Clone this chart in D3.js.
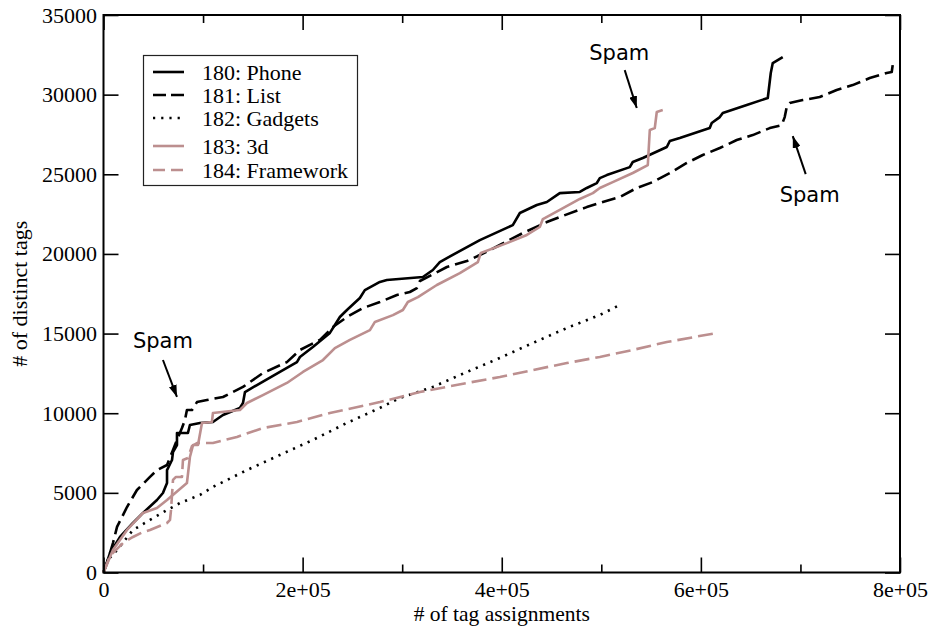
<!DOCTYPE html>
<html>
<head>
<meta charset="utf-8">
<script src="https://cdn.jsdelivr.net/npm/d3@7"></script>
<style>
  html, body { margin: 0; padding: 0; background: #fff; }
  svg { display: block; }
</style>
</head>
<body>
<svg id="chart" width="932" height="630"></svg>
<script>
// Growth of distinct tags per resource: [tag assignments, distinct tags]
const phone = [[0,0],[6500,1220],[16600,2230],[29600,3110],[39700,3740],[53700,4550],[59700,4990],[63800,5620],[63800,6430],[68800,7060],[69800,7560],[73800,8000],[73800,8760],[84800,8760],[86800,9260],[96900,9390],[109900,9450],[120000,9890],[137000,10330],[140100,10640],[142100,11330],[154100,11770],[177200,12590],[194300,13210],[197300,13530],[210300,14160],[227400,15040],[237400,16040],[244500,16480],[257500,17230],[262500,17730],[277600,18240],[284600,18360],[320800,18550],[330800,18990],[337800,19490],[344900,19740],[378000,20870],[411100,21810],[418200,22570],[435200,23070],[445300,23260],[458300,23820],[478400,23890],[485400,24140],[495500,24450],[498500,24760],[505500,24950],[528600,25450],[531600,25770],[541700,26020],[565800,26710],[568800,27090],[578800,27280],[608900,27900],[610900,28220],[619000,28590],[622000,28850],[646100,29350],[667200,29790],[670200,31360],[672200,31980],[677200,32170],[682200,32360]];

const list = [[0,0],[3500,600],[9500,1850],[13600,2860],[23600,4110],[33600,5180],[46700,6000],[53700,6430],[63800,6750],[69800,7690],[73800,8320],[78800,9070],[81800,9570],[83800,10200],[88900,10200],[93900,10700],[103900,10830],[120000,11020],[140100,11650],[160100,12520],[184200,13210],[197300,13970],[217400,14600],[230400,15410],[244500,16040],[260500,16600],[277600,16980],[294700,17420],[307700,17610],[314800,17860],[317800,18300],[344900,19180],[365000,19550],[378000,19930],[398100,20560],[421200,21310],[445300,22000],[458300,22320],[485400,22940],[501500,23260],[518600,23570],[535600,24140],[551700,24510],[568800,25080],[585800,25710],[601900,26210],[619000,26650],[636000,27150],[652100,27460],[669200,27900],[681200,28090],[684200,28590],[686200,29220],[689200,29470],[702300,29660],[719400,29850],[736400,30290],[752500,30600],[769600,31040],[786600,31360],[791700,31420],[792700,31860],[797700,32050]];

const gadgets = [[0,0],[4500,790],[13600,1410],[29600,2670],[46700,3300],[63800,3920],[76800,4360],[96900,4870],[109900,5370],[144100,6430],[177200,7380],[210300,8320],[244500,9390],[277600,10330],[297700,10960],[330800,11650],[365000,12590],[398100,13470],[431200,14410],[465400,15350],[498500,16170],[516600,16730]];

const threeD = [[0,0],[9500,1410],[23600,2670],[39700,3740],[53700,4050],[63800,4550],[83800,5620],[86800,7250],[89900,8000],[94900,8000],[98900,9390],[108900,9450],[109900,10010],[137000,10200],[144100,10640],[160100,11140],[184200,11900],[200300,12590],[220400,13340],[232400,14090],[247500,14600],[267600,15220],[272600,15730],[290700,16160],[300700,16480],[305700,16980],[315800,17290],[334800,18050],[357900,18800],[376000,19490],[379000,20060],[405100,20680],[425200,21190],[438200,21690],[441300,22190],[458300,22760],[478400,23450],[491500,23820],[498500,24140],[511500,24510],[531600,25080],[546700,25580],[548700,27780],[553700,27900],[555700,28910],[561700,29030]];

const framework = [[0,0],[6500,1040],[19600,1850],[29600,2230],[39700,2540],[46700,2670],[63800,3110],[66800,3300],[67800,3920],[69800,5810],[72800,6000],[78800,6000],[79800,7060],[84800,7190],[88900,7940],[93900,8130],[109900,8130],[134000,8510],[160100,9070],[194300,9450],[227400,10010],[277600,10700],[317800,11330],[365000,11900],[398100,12270],[431200,12710],[465400,13150],[498500,13530],[531600,13970],[565800,14470],[616000,15040]];

const seriesNames = ["180: Phone", "181: List", "182: Gadgets", "183: 3d", "184: Framework"];
const xTicks = [0, 200000, 400000, 600000, 800000];
const xTickLabels = ["0", "2e+05", "4e+05", "6e+05", "8e+05"];
const xMinorTicks = [100000, 300000, 500000, 700000];
const yTicks = [0, 5000, 10000, 15000, 20000, 25000, 30000, 35000];

// Spam callouts: label position and arrow from -> to, in data units
const spamNotes = [
  { text: "Spam", at: [59700, 14090], from: [59700, 13340], to: [73800, 11020] },
  { text: "Spam", at: [518000, 32170], from: [523500, 31540], to: [535600, 29160] },
  { text: "Spam", at: [709300, 23260], from: [705300, 25010], to: [692300, 27400] }
];

const ROSE = "#bc8f8f";
const styles = [
  { color: "#000", dash: null },
  { color: "#000", dash: "14,6" },
  { color: "#000", dash: "2.2,5.8" },
  { color: ROSE, dash: null },
  { color: ROSE, dash: "15,6" }
];
const allSeries = [phone, list, gadgets, threeD, framework];

const svg = d3.select("#chart");
const plotLeft = 103.5, plotRight = 900, plotTop = 15, plotBottom = 572.5;

const x = d3.scaleLinear().domain([0, 800000]).range([plotLeft, plotRight]);
const y = d3.scaleLinear().domain([0, 35000]).range([plotBottom, plotTop]);

const serif = "Liberation Serif, Times New Roman, Times, serif";
const sans = "DejaVu Sans, sans-serif";

// Series lines
const line = d3.line().x(d => x(d[0])).y(d => y(d[1]));
allSeries.forEach((data, i) => {
  svg.append("path")
    .datum(data)
    .attr("d", line)
    .attr("fill", "none")
    .attr("stroke", styles[i].color)
    .attr("stroke-width", 2.6)
    .attr("stroke-linejoin", "round")
    .attr("stroke-dasharray", styles[i].dash);
});

// Axes with inward ticks on all four sides
function styleAxis(g) {
  g.attr("font-family", serif).attr("font-size", 22);
  g.select(".domain").remove();
  g.selectAll(".tick line").attr("stroke", "#000").attr("stroke-width", 1.6);
  g.selectAll("text").attr("fill", "#000");
}

svg.append("g").attr("transform", `translate(0,${plotBottom})`)
  .call(d3.axisBottom(x).tickValues(xTicks).tickSize(-15).tickPadding(8.5)
    .tickFormat((d, i) => xTickLabels[i]))
  .call(styleAxis);
svg.append("g").attr("transform", `translate(0,${plotBottom})`)
  .call(d3.axisBottom(x).tickValues(xMinorTicks).tickSize(-8).tickFormat(""))
  .call(styleAxis);
svg.append("g").attr("transform", `translate(0,${plotTop})`)
  .call(d3.axisTop(x).tickValues(xTicks).tickSize(-15).tickFormat(""))
  .call(styleAxis);
svg.append("g").attr("transform", `translate(0,${plotTop})`)
  .call(d3.axisTop(x).tickValues(xMinorTicks).tickSize(-8).tickFormat(""))
  .call(styleAxis);
svg.append("g").attr("transform", `translate(${plotLeft},0)`)
  .call(d3.axisLeft(y).tickValues(yTicks).tickSize(-15).tickPadding(6.5)
    .tickFormat(d3.format("d")))
  .call(styleAxis);
svg.append("g").attr("transform", `translate(${plotRight},0)`)
  .call(d3.axisRight(y).tickValues(yTicks).tickSize(-15).tickFormat(""))
  .call(styleAxis);

// Plot frame
svg.append("rect")
  .attr("x", plotLeft).attr("y", plotTop)
  .attr("width", plotRight - plotLeft).attr("height", plotBottom - plotTop)
  .attr("fill", "none").attr("stroke", "#000").attr("stroke-width", 2);

// Axis titles
svg.append("text")
  .attr("x", (plotLeft + plotRight) / 2).attr("y", 621)
  .attr("text-anchor", "middle")
  .attr("font-family", serif).attr("font-size", 21.5)
  .text("# of tag assignments");
svg.append("text")
  .attr("transform", `translate(27,${(plotTop + plotBottom) / 2}) rotate(-90)`)
  .attr("text-anchor", "middle")
  .attr("font-family", serif).attr("font-size", 22)
  .text("# of distinct tags");

// Legend
const legend = svg.append("g");
legend.append("rect")
  .attr("x", 143.5).attr("y", 55.5).attr("width", 214).attr("height", 130)
  .attr("fill", "#fff").attr("stroke", "#222").attr("stroke-width", 1.2);
const rowY = [72, 95, 118, 146, 170];
seriesNames.forEach((name, i) => {
  legend.append("line")
    .attr("x1", 153).attr("x2", 184)
    .attr("y1", rowY[i]).attr("y2", rowY[i])
    .attr("stroke", styles[i].color).attr("stroke-width", 2.6)
    .attr("stroke-dasharray", i === 1 ? "13,5" : i === 4 ? "12,6" : i === 2 ? "2.2,6" : null);
  legend.append("text")
    .attr("x", 202).attr("y", rowY[i] + 7.5)
    .attr("font-family", serif).attr("font-size", 22)
    .text(name);
});

// Arrowhead marker
svg.append("defs").append("marker")
  .attr("id", "arrow")
  .attr("viewBox", "0 0 12 8")
  .attr("refX", 12).attr("refY", 4)
  .attr("markerWidth", 12).attr("markerHeight", 8)
  .attr("markerUnits", "userSpaceOnUse")
  .attr("orient", "auto")
  .append("path").attr("d", "M0,0 L12,4 L0,8 Z").attr("fill", "#000");

// Spam callouts
spamNotes.forEach(n => {
  svg.append("line")
    .attr("x1", x(n.from[0])).attr("y1", y(n.from[1]))
    .attr("x2", x(n.to[0])).attr("y2", y(n.to[1]))
    .attr("stroke", "#000").attr("stroke-width", 2)
    .attr("marker-end", "url(#arrow)");
  svg.append("text")
    .attr("x", x(n.at[0])).attr("y", y(n.at[1]))
    .attr("text-anchor", "middle")
    .attr("font-family", sans).attr("font-size", 21)
    .text(n.text);
});
</script>
</body>
</html>
